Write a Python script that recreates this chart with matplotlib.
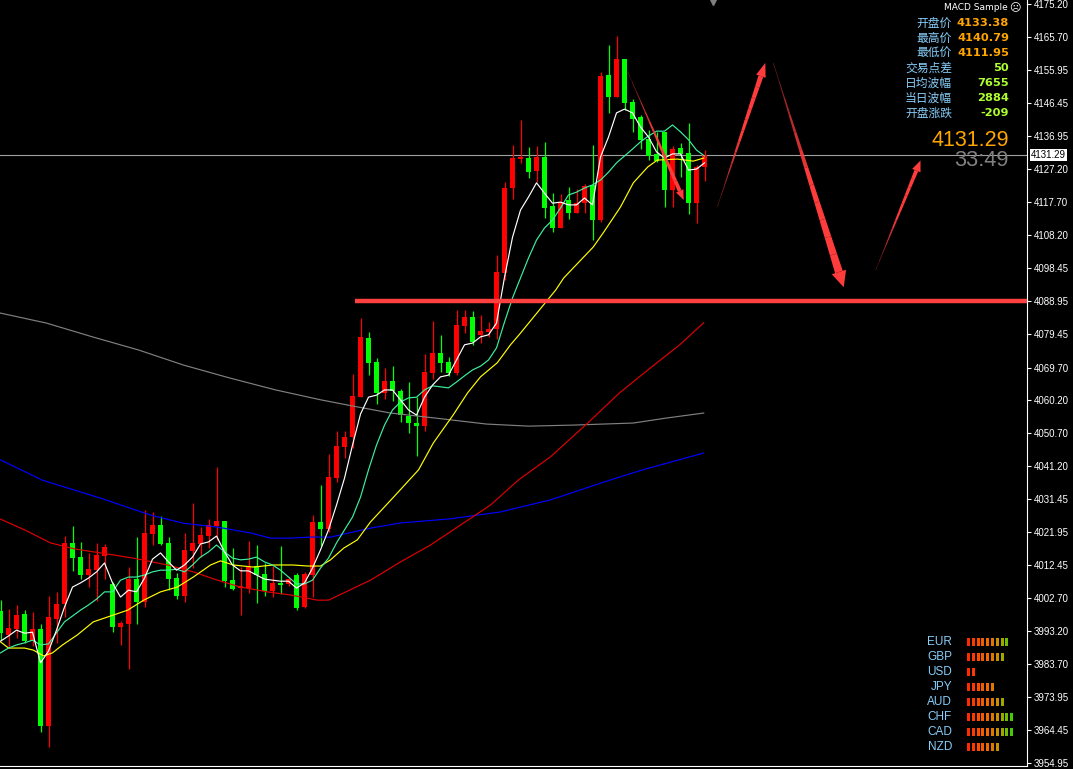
import matplotlib
matplotlib.use('Agg')
import matplotlib.pyplot as plt
from matplotlib.patches import Polygon, Rectangle
from matplotlib.transforms import IdentityTransform, blended_transform_factory
import numpy as np

# ---- candles (oldest -> newest), red = up, green = down
opens = [3999.0, 3992.1, 3993.8, 3998.2, 3990.3, 3993.8, 3965.7, 3996.7, 4001.1, 4018.8,
         4014.7, 4009.5, 4010.9, 4015.0, 4006.9, 3994.4, 3995.3, 4008.3, 4001.7, 4021.4,
         4024.0, 4018.8, 4008.6, 4003.4, 4016.5, 4018.5, 4020.8, 4023.7, 4025.2, 4008.0,
         4005.7, 4005.7, 4012.1, 4009.8, 4004.9, 4007.2, 4006.9, 4009.5, 4000.2, 4009.5,
         4024.9, 4022.9, 4037.6, 4046.7, 4049.6, 4061.1, 4078.3, 4071.4, 4062.4, 4065.9,
         4062.9, 4055.6, 4053.6, 4052.7, 4068.1, 4073.9, 4071.4, 4068.1, 4081.8, 4084.4,
         4079.2, 4080.1, 4081.0, 4097.1, 4121.8, 4130.2, 4130.5, 4126.7, 4130.8, 4116.6,
         4110.2, 4118.3, 4114.5, 4117.4, 4122.7, 4112.5, 4154.6, 4148.2, 4159.2, 4146.8,
         4142.4, 4136.0, 4131.7, 4138.1, 4121.2, 4133.4, 4132.0, 4117.4, 4127.9]
highs = [4002.2, 3999.6, 4000.8, 3999.3, 3998.8, 3995.3, 4003.4, 4004.6, 4020.8, 4023.7,
         4019.1, 4015.9, 4018.8, 4018.5, 4007.5, 3996.1, 4011.8, 4020.5, 4028.4, 4027.8,
         4026.6, 4020.5, 4010.1, 4021.7, 4030.4, 4023.4, 4025.8, 4040.8, 4025.2, 4017.3,
         4011.8, 4019.4, 4018.2, 4013.0, 4012.1, 4017.9, 4008.9, 4010.1, 4010.4, 4026.9,
         4035.6, 4044.6, 4051.3, 4051.3, 4067.8, 4084.1, 4080.0, 4072.5, 4069.6, 4070.2,
         4063.5, 4065.6, 4061.1, 4073.6, 4083.2, 4079.2, 4072.8, 4086.4, 4086.4, 4086.1,
         4085.0, 4082.9, 4102.4, 4123.6, 4134.3, 4141.5, 4133.7, 4134.0, 4135.2, 4120.3,
         4120.0, 4122.1, 4121.5, 4122.9, 4134.3, 4155.5, 4163.3, 4165.9, 4159.2, 4147.6,
         4143.0, 4138.6, 4138.1, 4138.1, 4134.0, 4134.9, 4140.7, 4128.5, 4132.8]
lows = [3990.6, 3988.3, 3991.2, 3989.8, 3988.9, 3964.0, 3959.6, 3989.8, 3997.3, 4010.7,
        4008.3, 4006.0, 4002.0, 4008.3, 3992.9, 3989.2, 3982.2, 3995.3, 4000.2, 4018.2,
        4018.2, 4005.1, 4002.5, 4001.7, 4011.5, 4014.7, 4017.3, 4019.7, 4006.0, 4005.1,
        3997.9, 4004.3, 4001.4, 4003.4, 4003.1, 4004.0, 4006.3, 3999.3, 3999.9, 4003.1,
        4017.9, 4022.0, 4036.5, 4043.5, 4046.4, 4061.1, 4067.5, 4059.1, 4060.6, 4060.0,
        4053.9, 4050.7, 4044.1, 4051.3, 4066.4, 4068.4, 4067.2, 4067.5, 4079.7, 4076.3,
        4076.8, 4078.6, 4078.0, 4095.2, 4118.6, 4129.0, 4124.6, 4123.5, 4113.1, 4109.0,
        4110.2, 4112.8, 4114.5, 4114.5, 4106.7, 4111.9, 4143.6, 4148.2, 4144.5, 4138.1,
        4133.0, 4129.9, 4129.3, 4116.2, 4116.2, 4124.9, 4114.2, 4111.6, 4123.8]
closes = [3992.7, 3994.1, 3997.9, 3990.3, 3993.8, 3965.7, 3997.3, 4001.1, 4018.8, 4014.4,
          4009.5, 4011.2, 4015.3, 4017.6, 3994.4, 3995.6, 4008.3, 4001.7, 4021.7, 4024.0,
          4018.5, 4008.3, 4003.4, 4016.8, 4018.8, 4021.1, 4024.0, 4025.2, 4007.8, 4005.4,
          4006.3, 4011.8, 4009.5, 4004.9, 4007.2, 4006.6, 4008.3, 3999.9, 4009.8, 4024.9,
          4022.9, 4037.9, 4046.9, 4049.6, 4061.4, 4078.6, 4071.1, 4062.4, 4065.9, 4062.9,
          4055.9, 4053.6, 4052.7, 4068.4, 4073.9, 4071.1, 4068.1, 4082.0, 4084.4, 4077.1,
          4080.4, 4081.0, 4097.4, 4121.8, 4130.5, 4130.8, 4126.4, 4130.8, 4116.0, 4110.2,
          4117.7, 4114.5, 4117.4, 4122.4, 4112.5, 4154.3, 4148.2, 4159.2, 4146.5, 4141.8,
          4135.8, 4131.1, 4129.6, 4121.2, 4133.1, 4131.7, 4117.4, 4127.9, 4131.29]

# ---- moving averages
ma_white = [3990.3, 3991.8, 3993.5, 3992.6, 3992.9, 3984.0, 3987.4, 3993.5, 4000.2, 4006.0,
            4007.2, 4008.6, 4010.4, 4013.0, 4007.2, 4003.1, 4005.1, 4004.6, 4008.6, 4014.1,
            4015.9, 4013.3, 4010.9, 4012.4, 4014.7, 4018.5, 4019.1, 4020.8, 4016.2, 4012.4,
            4010.7, 4010.7, 4009.5, 4008.3, 4008.0, 4007.7, 4007.7, 4005.7, 4007.2, 4011.5,
            4016.8, 4022.6, 4029.8, 4037.6, 4047.2, 4056.2, 4061.1, 4061.7, 4063.2, 4063.2,
            4060.3, 4057.4, 4055.9, 4061.1, 4064.6, 4067.0, 4067.5, 4071.9, 4076.3, 4076.8,
            4078.6, 4079.2, 4082.6, 4095.9, 4107.5, 4115.4, 4119.2, 4123.3, 4120.3, 4117.4,
            4117.7, 4116.9, 4116.9, 4118.9, 4116.9, 4130.8, 4136.6, 4143.6, 4144.7, 4143.6,
            4139.5, 4136.6, 4132.3, 4130.5, 4131.7, 4131.7, 4127.0, 4127.3, 4129.1]
ma_green = [3986.9, 3988.3, 3989.2, 3989.8, 3990.6, 3989.2, 3989.5, 3992.7, 3995.9, 3997.6,
            3999.3, 4000.8, 4002.5, 4004.6, 4004.6, 4008.0, 4008.9, 4008.9, 4009.5, 4010.4,
            4010.9, 4010.9, 4011.2, 4010.4, 4012.4, 4014.7, 4016.2, 4018.2, 4016.2, 4014.4,
            4013.9, 4014.1, 4014.7, 4013.3, 4012.4, 4010.9, 4008.9, 4006.9, 4006.9, 4008.0,
            4011.5, 4014.4, 4018.8, 4022.6, 4026.3, 4032.1, 4040.0, 4047.2, 4053.0, 4057.4,
            4059.7, 4060.9, 4061.1, 4063.2, 4064.4, 4064.1, 4063.8, 4065.5, 4067.3, 4069.0,
            4070.1, 4071.9, 4075.4, 4082.9, 4089.9, 4095.7, 4101.5, 4106.7, 4110.2, 4112.5,
            4116.0, 4119.8, 4120.6, 4121.8, 4122.7, 4124.1, 4126.4, 4129.1, 4131.1, 4133.1,
            4135.2, 4136.9, 4138.3, 4138.3, 4140.1, 4138.1, 4135.8, 4132.8, 4131.1]
yellow_x = [0, 1, 3, 4.1, 5.4, 6.5, 7.75, 9.6, 11.6, 13.75, 15.9, 17.9, 20, 22.1, 24.1, 26.25,
            27.5, 29.1, 31.6, 34.1, 36.6, 38.4, 40, 41.25, 42.9, 44.6, 46.25, 49.25, 52.25,
            54.1, 56.6, 58.4, 60, 62.1, 63.75, 65, 69.4, 70.4, 74.1, 75.4, 77.5, 79.1, 80.9,
            82.1, 84.6, 86.6, 87.9]
ma_yellow = [3990.1, 3988.3, 3988.3, 3987.7, 3986.0, 3986.9, 3989.2, 3992.1, 3995.9, 3997.6,
             3999.3, 4002.2, 4004.6, 4006.0, 4008.9, 4012.4, 4013.6, 4012.4, 4011.8, 4012.4,
             4012.4, 4012.1, 4012.1, 4013.9, 4017.3, 4019.7, 4024.9, 4032.4, 4040.0, 4047.8,
             4056.0, 4062.4, 4067.0, 4071.1, 4076.3, 4079.7, 4092.2, 4095.7, 4104.7, 4109.0,
             4116.3, 4123.3, 4127.9, 4129.9, 4130.2, 4129.6, 4130.5]
red_x = [0, 3.1, 6.25, 9.4, 12.5, 16.6, 20.9, 24.1, 27.1, 30, 33.4, 36.25, 39.6, 41, 42.9,
         46.25, 50, 53.75, 57.5, 61.25, 64.75, 68.75, 73.4, 77.4, 81.4, 84.9, 87.9]
ma_red = [4025.7, 4022.5, 4018.8, 4017.0, 4015.9, 4014.4, 4012.4, 4010.4, 4008.0, 4006.0,
          4004.6, 4003.7, 4002.2, 4002.2, 4004.3, 4008.0, 4013.3, 4018.2, 4024.0, 4029.8,
          4037.1, 4043.8, 4053.6, 4062.4, 4069.9, 4076.3, 4082.7]
blue_x = [0, 5.25, 12.5, 18.75, 22.9, 27.1, 31.25, 33.75, 36.25, 38.75, 41.25, 46.25, 50,
          56.25, 62.5, 68.75, 72.5, 76.25, 80.25, 87.9]
ma_blue = [4042.9, 4037.0, 4031.8, 4026.9, 4024.5, 4023.4, 4021.7, 4020.2, 4020.2, 4020.5,
           4020.5, 4023.1, 4024.6, 4025.8, 4027.8, 4031.3, 4034.2, 4037.1, 4040.0, 4044.9]
grey_x = [0, 5.75, 11.5, 17.25, 22.9, 28.6, 34.4, 40.1, 44.1, 48.75, 54.5, 60.75, 66, 71.6,
          79.1, 83.1, 87.9]
ma_grey = [4085.5, 4082.6, 4078.6, 4074.8, 4070.4, 4066.7, 4063.2, 4060.3, 4058.5, 4056.5,
           4055.0, 4053.3, 4052.7, 4053.0, 4053.6, 4055.0, 4056.5]

# ---- drawn objects
level_price = 4088.95
level_start = 44.3
price_now = 4131.29
# arrows: (x0, p0, x1, p1, shaft width px, head width px, head length px)
arrows = [(78.4, 4155.5, 85.4, 4118.3, 4, 8, 10),
          (89.6, 4116.3, 95.6, 4158.1, 5, 10, 14),
          (96.6, 4158.1, 105.4, 4093.0, 8, 15, 16),
          (109.4, 4098.0, 115.0, 4129.8, 4, 9, 11)]

yticks = [4175.20, 4165.70, 4155.95, 4146.45, 4136.95, 4127.20, 4117.70, 4108.20, 4098.45,
          4088.95, 4079.45, 4069.70, 4060.20, 4050.70, 4041.20, 4031.45, 4021.95, 4012.45,
          4002.70, 3993.20, 3983.70, 3973.95, 3964.45, 3954.95]

info_labels = ['开盘价', '最高价', '最低价', '交易点差', '日均波幅', '当日波幅', '开盘涨跌']
info_values = ['4133.38', '4140.79', '4111.95', '50', '7655', '2884', '-209']
info_colors = ['#ffa500', '#ffa500', '#ffa500', '#adff2f', '#adff2f', '#adff2f', '#adff2f']
clock_text = '33:49'

currencies = ['EUR', 'GBP', 'USD', 'JPY', 'AUD', 'CHF', 'CAD', 'NZD']
strength = [9, 8, 2, 6, 8, 10, 10, 7]
bar_colors = ['#ff2a00', '#ff3a00', '#ff4a00', '#f85a00', '#f06a00', '#e07800',
              '#c89000', '#a0a800', '#70bc00', '#44cc00']

W, H = 1073, 769
fig = plt.figure(figsize=(W / 100, H / 100), dpi=100, facecolor='black')
ax = fig.add_axes([0, 3 / H, 1027 / W, 766 / H])
ax.set_facecolor('black')
ax.set_xlim(-0.0625, 128.31)
ax.set_ylim(3954.07, 4176.36)

idx = np.arange(len(opens))
o = np.array(opens); c = np.array(closes)
up = c >= o
col = np.where(up, '#ff0000', '#00ff00')
ax.vlines(idx, lows, highs, colors=col, lw=0.9, zorder=2)
body_lo = np.minimum(o, c)
body_h = np.maximum(np.abs(c - o), 0.35)
ax.bar(idx, body_h, bottom=body_lo, width=0.64, color=col, lw=0, zorder=3)

ax.plot(grey_x, ma_grey, color='#808080', lw=0.85, zorder=4)
ax.plot(blue_x, ma_blue, color='#0000ff', lw=0.85, zorder=4)
ax.plot(red_x, ma_red, color='#e00000', lw=0.85, zorder=4)
ax.plot(yellow_x, ma_yellow, color='#ffff00', lw=0.85, zorder=4)
ax.plot(idx, ma_green, color='#3cf0a0', lw=0.85, zorder=4)
ax.plot(idx, ma_white, color='#ffffff', lw=0.85, zorder=5)

ax.axhline(price_now, color='#a0a0a0', lw=0.8, zorder=1)
ax.hlines(level_price, level_start, 128.31, color='#ff4040', lw=3.2, zorder=6)


def draw_arrow(x0, p0, x1, p1, w, hw, hl, color='#ff3c3c'):
    tail, tip = ax.transData.transform([(x0, p0), (x1, p1)])
    v = tip - tail
    L = np.hypot(*v)
    u = v / L
    n = np.array([-u[1], u[0]])
    base = tip - u * hl
    nseg = 12
    for k in range(nseg):
        t0, t1 = k / nseg, (k + 1) / nseg
        a = tail + (base - tail) * t0
        b = tail + (base - tail) * t1
        w0, w1 = max(w * t0 / 2, 0.3), w * t1 / 2
        pts = [a + n * w0, b + n * w1, b - n * w1, a - n * w0]
        ax.add_patch(Polygon(pts, closed=True, transform=IdentityTransform(), fc=color,
                             ec='none', alpha=min(1.0, 0.35 + 1.1 * t1), clip_on=False,
                             zorder=7))
    head = [base + n * hw / 2, tip, base - n * hw / 2]
    ax.add_patch(Polygon(head, closed=True, transform=IdentityTransform(), fc=color,
                         ec='none', clip_on=False, zorder=7))


for a in arrows:
    draw_arrow(*a)

# axes styling
for s in ['top', 'left']:
    ax.spines[s].set_visible(False)
ax.spines['right'].set_color('white')
ax.spines['bottom'].set_color('white')
ax.set_xticks([])
ax.yaxis.tick_right()
ax.set_yticks(yticks)
ax.set_yticklabels(['%.2f' % t for t in yticks], family='Liberation Sans')
ax.tick_params(axis='y', colors='white', labelsize=7, length=3, width=0.8, pad=2)

tr = blended_transform_factory(ax.transAxes, ax.transData)
ax.text(1.004, price_now, '%.2f' % price_now, transform=tr, ha='left', va='center',
        fontsize=7, family='Liberation Sans', color='black', clip_on=False, zorder=10,
        bbox=dict(boxstyle='square,pad=0.12', fc='white', ec='none'))

# overlay in pixel space for panels
ov = fig.add_axes([0, 0, 1, 1])
ov.set_xlim(0, W)
ov.set_ylim(H, 0)
ov.axis('off')

ov.text(1008, 8, 'MACD Sample', color='white', fontsize=6.5, ha='right', va='center')
ov.text(1021, 8, '☹', color='white', fontsize=8, ha='right', va='center')
for k, (lab, val, vc) in enumerate(zip(info_labels, info_values, info_colors)):
    y = 23 + 15 * k
    ov.text(952, y, lab, color='#87cefa', fontsize=8.5, ha='right', va='center',
            family=['Noto Sans CJK SC', 'DejaVu Sans'])
    ov.text(1009, y, val, color=vc, fontsize=8.2, ha='right', va='center', weight='bold')
ov.text(1009, 140, '%.2f' % price_now, color='#ffa500', fontsize=15.5, ha='right',
        va='center', family='Liberation Sans')
ov.text(1009, 160, clock_text, color='#808080', fontsize=15.7, ha='right', va='center',
        family='Liberation Sans')
ov.plot([713], [1], marker='v', ms=6, color='#808080', clip_on=False)

for k, (cur, n) in enumerate(zip(currencies, strength)):
    y = 642 + 15 * k
    ov.text(952, y, cur, color='#87cefa', fontsize=8.5, ha='right', va='center',
            family='Liberation Sans')
    for j in range(n):
        ov.add_patch(Rectangle((967 + 4.8 * j, y - 4), 3, 8, fc=bar_colors[j], ec='none'))

fig.savefig('out.png', dpi=100, facecolor='black')
